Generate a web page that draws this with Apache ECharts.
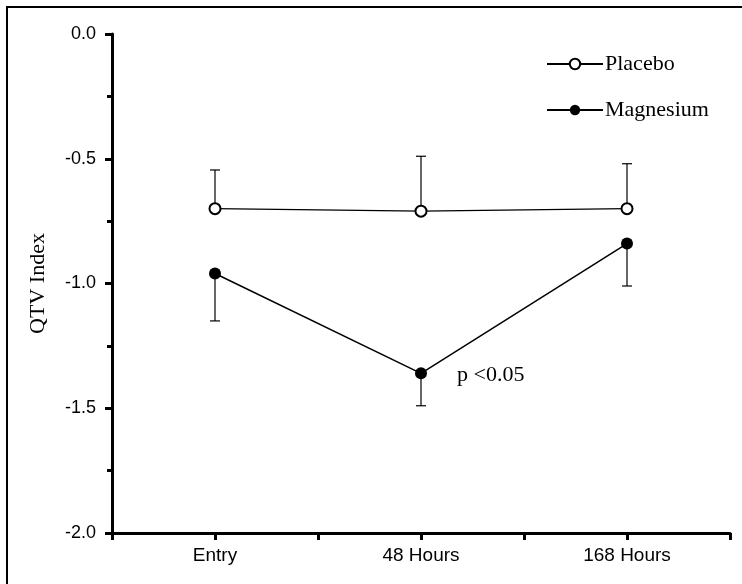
<!DOCTYPE html>
<html>
<head>
<meta charset="utf-8">
<script src="https://cdn.jsdelivr.net/npm/echarts@6/dist/echarts.min.js"></script>
<style>
  html, body { margin: 0; padding: 0; background: #fff; }
  #main { width: 742px; height: 584px; }
</style>
</head>
<body>
<div id="main"></div>
<script>
// time points and values
var categories = ['Entry', '48 Hours', '168 Hours'];
var placeboMean = [-0.70, -0.71, -0.70];
var placeboUpper = [-0.545, -0.49, -0.52];
var magnesiumMean = [-0.96, -1.36, -0.84];
var magnesiumLower = [-1.15, -1.49, -1.01];

var myChart = echarts.init(document.getElementById('main'));

function pts(vals) {
  return vals.map(function (v, i) { return [i + 1, v]; });
}
function bars(mean, end) {
  return mean.map(function (v, i) { return [i + 1, v, end[i]]; });
}

// error bar: vertical stem plus a small cap
function errorBar(params, api) {
  var p0 = api.coord([api.value(0), api.value(1)]);
  var p1 = api.coord([api.value(0), api.value(2)]);
  var st = { stroke: '#000', lineWidth: 1.2 };
  return {
    type: 'group',
    children: [
      { type: 'line', shape: { x1: p0[0], y1: p0[1], x2: p1[0], y2: p1[1] }, style: st },
      { type: 'line', shape: { x1: p1[0] - 5, y1: p1[1], x2: p1[0] + 5, y2: p1[1] }, style: st }
    ]
  };
}

var option = {
  animation: false,
  backgroundColor: '#fff',
  grid: { left: 112, right: 12, top: 34, bottom: 51 },
  legend: {
    orient: 'vertical',
    left: 541,
    top: 48,
    itemWidth: 56,
    itemHeight: 13,
    itemGap: 24,
    data: ['Placebo', 'Magnesium'],
    textStyle: { fontFamily: 'Liberation Serif', fontSize: 22, color: '#000', padding: [0, 0, 0, -3] }
  },
  xAxis: {
    type: 'value',
    min: 0.5,
    max: 3.5,
    interval: 0.5,
    splitLine: { show: false },
    axisLine: { onZero: false, lineStyle: { color: '#000', width: 3 } },
    axisTick: { length: 7, lineStyle: { color: '#000', width: 3 } },
    axisLabel: {
      color: '#000',
      fontFamily: 'Liberation Sans',
      fontSize: 19,
      margin: 13,
      showMinLabel: true,
      showMaxLabel: true,
      formatter: function (v) {
        return (Math.abs(v - Math.round(v)) < 1e-6 && v >= 1 && v <= 3) ? categories[Math.round(v) - 1] : '';
      }
    }
  },
  yAxis: {
    type: 'value',
    min: -2,
    max: 0,
    interval: 0.5,
    name: 'QTV Index',
    nameLocation: 'middle',
    nameGap: 63,
    nameTextStyle: { fontFamily: 'Liberation Serif', fontSize: 22, color: '#000' },
    splitLine: { show: false },
    axisLine: { onZero: false, lineStyle: { color: '#000', width: 3 } },
    axisTick: { length: 7, lineStyle: { color: '#000', width: 3 } },
    minorTick: { show: true, splitNumber: 2, length: 5, lineStyle: { color: '#000', width: 3 } },
    axisLabel: {
      color: '#000',
      fontFamily: 'Liberation Sans',
      fontSize: 18,
      margin: 16,
      formatter: function (v) { return v.toFixed(1); }
    }
  },
  graphic: [
    { type: 'line', shape: { x1: 6, y1: 7, x2: 742, y2: 7 }, style: { stroke: '#000', lineWidth: 2 } },
    { type: 'line', shape: { x1: 7, y1: 6, x2: 7, y2: 584 }, style: { stroke: '#000', lineWidth: 2 } },
    { type: 'text', left: 457, top: 364, style: { text: 'p <0.05', font: '22px "Liberation Serif"', fill: '#000' } }
  ],
  series: [
    {
      name: 'Placebo-err',
      type: 'custom',
      renderItem: errorBar,
      encode: { x: 0, y: [1, 2] },
      data: bars(placeboMean, placeboUpper),
      z: 1
    },
    {
      name: 'Magnesium-err',
      type: 'custom',
      renderItem: errorBar,
      encode: { x: 0, y: [1, 2] },
      data: bars(magnesiumMean, magnesiumLower),
      z: 1
    },
    {
      name: 'Placebo',
      type: 'line',
      data: pts(placeboMean),
      symbol: 'emptyCircle',
      symbolSize: 11,
      lineStyle: { color: '#000', width: 1.2 },
      itemStyle: { color: '#000', borderColor: '#000', borderWidth: 1.2 },
      z: 3
    },
    {
      name: 'Magnesium',
      type: 'line',
      data: pts(magnesiumMean),
      symbol: 'circle',
      symbolSize: 12,
      lineStyle: { color: '#000', width: 1.5 },
      itemStyle: { color: '#000' },
      z: 3
    }
  ]
};

myChart.setOption(option);
</script>
</body>
</html>
